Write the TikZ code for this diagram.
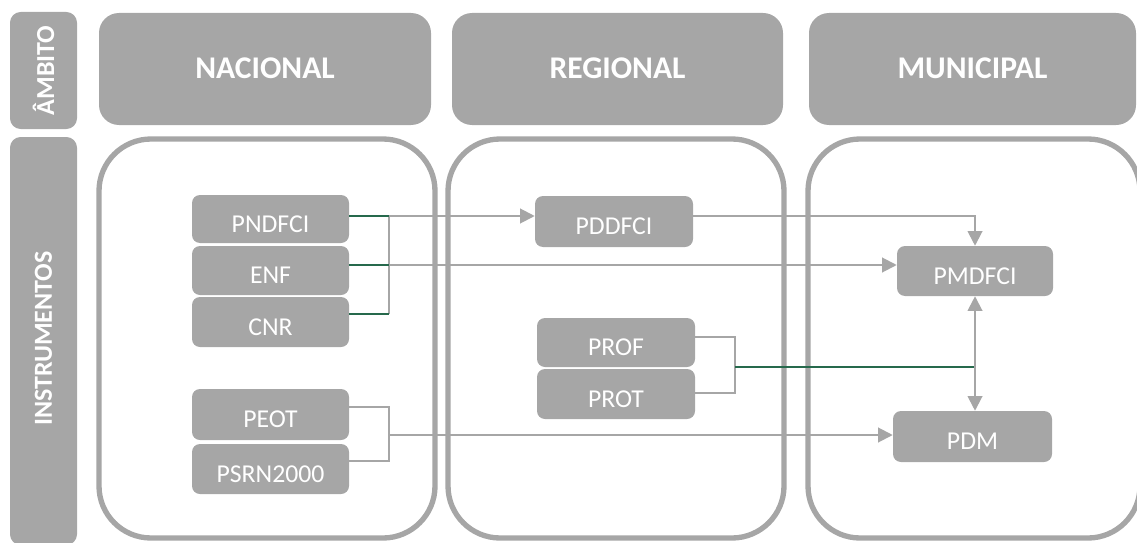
\documentclass[tikz,border=0pt]{standalone}
\usepackage{fontspec}
\setmainfont{Carlito}
\usetikzlibrary{arrows.meta}
\definecolor{boxgray}{RGB}{166,166,166}
\definecolor{lgreen}{RGB}{38,105,76}
\tikzset{
  hdr/.style={fill=boxgray, draw=none, rounded corners=15pt},
  side/.style={fill=boxgray, draw=none, rounded corners=8pt},
  col/.style={draw=boxgray, line width=4pt, rounded corners=39pt},
  box/.style={fill=boxgray, draw=none, rounded corners=6pt, text=white, inner sep=0pt,
    text height=19.5pt, text depth=0pt,
    font=\fontsize{19.3}{23}\selectfont},
  hdrtext/.style={text=white, font=\bfseries\fontsize{23.7}{28}\selectfont},
  sidetext/.style={text=white, font=\bfseries\fontsize{19.5}{23}\selectfont, rotate=90},
  conn/.style={draw=boxgray, line width=1.5pt},
  gline/.style={draw=lgreen, line width=1.5pt},
  tip/.style={-{Triangle[length=11pt,width=11pt]}},
  dtip/.style={{Triangle[length=11pt,width=11pt]}-{Triangle[length=11pt,width=11pt]}}
}
\begin{document}
\begin{tikzpicture}[x=0.75pt,y=-0.75pt]
\useasboundingbox (0,0) rectangle (1137,542);
% side labels
\fill[side] (10,12) rectangle (77,129);
\node[sidetext] (ambito) at (43.5,70.5) {ÂMBITO};
\fill[side] (10,137) rectangle (77,545);
\node[sidetext] (instr) at (43.5,338.5) {INSTRUMENTOS};
% headers
\fill[hdr] (99,13) rectangle (431,125);
\node[hdrtext] (nac) at (265,68) {NACIONAL};
\fill[hdr] (452,13) rectangle (783,125);
\node[hdrtext] (reg) at (617.5,68) {REGIONAL};
\fill[hdr] (809,13) rectangle (1136,125);
\node[hdrtext] (mun) at (972.5,68) {MUNICIPAL};
% columns
\draw[col] (99,139) rectangle (435,538);
\draw[col] (448,139) rectangle (784,538);
\draw[col] (808,139) rectangle (1140,538);
% nodes
\node[box, minimum width=117.75pt, minimum height=36pt] (PNDFCI) at (270.5,219) {PNDFCI};
\node[box, minimum width=117.75pt, minimum height=36.75pt] (ENF) at (270.5,270.5) {ENF};
\node[box, minimum width=117.75pt, minimum height=37.5pt] (CNR) at (270.5,322) {CNR};
\node[box, minimum width=117.75pt, minimum height=38.25pt] (PEOT) at (270.5,414.5) {PEOT};
\node[box, minimum width=117.75pt, minimum height=37.5pt] (PSRN) at (270.5,469) {PSRN2000};
\node[box, minimum width=118.5pt, minimum height=38.25pt] (PDDFCI) at (614,221.5) {PDDFCI};
\node[box, minimum width=118.5pt, minimum height=36.75pt] (PROF) at (616,342.5) {PROF};
\node[box, minimum width=118.5pt, minimum height=37.5pt] (PROT) at (616,394) {PROT};
\node[box, minimum width=117pt, minimum height=37.5pt] (PMDFCI) at (975,271) {PMDFCI};
\node[box, minimum width=119.25pt, minimum height=38.25pt] (PDM) at (972.5,436.5) {PDM};
% junction coordinates
\coordinate (n1) at (389,216);
\coordinate (n2) at (389,265);
\coordinate (n3) at (389,314);
\coordinate (r1) at (735,337);
\coordinate (r3) at (735,393);
\coordinate (rm) at (735,367);
\coordinate (j) at (975,367);
\coordinate (p1) at (389,407);
\coordinate (p3) at (389,461);
\coordinate (pm) at (389,435);
% national bracket
\draw[conn] (n1) -- (n3);
\draw[conn,tip] (n1) -- (PDDFCI.west |- n1);
\draw[conn,tip] (n2) -- (PMDFCI.west |- n2);
\draw[gline] (PNDFCI.east |- n1) -- (n1);
\draw[gline] (ENF.east |- n2) -- (n2);
\draw[gline] (CNR.east |- n3) -- (n3);
% PDDFCI to PMDFCI
\draw[conn,tip] (PDDFCI.east |- n1) -| (PMDFCI.north);
% PROF/PROT bracket
\draw[conn] (PROF.east |- r1) -- (r1) -- (r3) -- (PROT.east |- r3);
\draw[gline] (rm) -- (j);
\draw[conn,dtip] (PMDFCI.south) -- (PDM.north -| PMDFCI.south);
% PEOT/PSRN bracket
\draw[conn] (PEOT.east |- p1) -- (p1) -- (p3) -- (PSRN.east |- p3);
\draw[conn,tip] (pm) -- (PDM.west |- pm);
\end{tikzpicture}
\end{document}
